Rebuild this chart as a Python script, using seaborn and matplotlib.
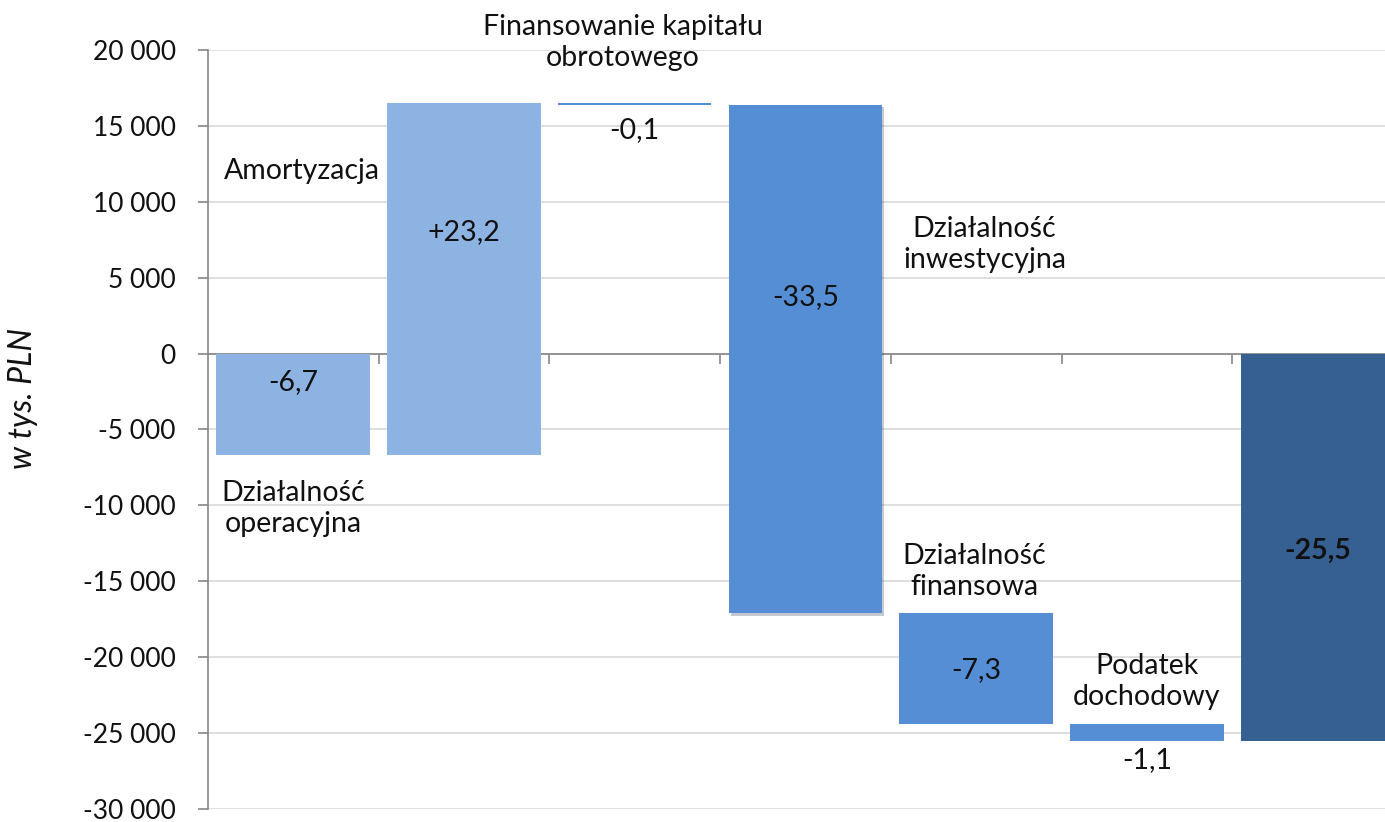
import matplotlib
matplotlib.use("Agg")
import matplotlib.pyplot as plt
import matplotlib.patheffects as pe
import seaborn as sns
import pandas as pd
from matplotlib.ticker import FuncFormatter

# ---- data ----
categories = ["Działalność operacyjna", "Amortyzacja", "Finansowanie kapitału obrotowego",
              "Działalność inwestycyjna", "Działalność finansowa", "Podatek dochodowy", "Razem"]
changes = [-6700, 23200, -100, -33500, -7300, -1100]   # w tys. PLN
total = -25500
value_labels = ["-6,7", "+23,2", "-0,1", "-33,5", "-7,3", "-1,1", "-25,5"]
name_labels = ["Działalność\noperacyjna", "Amortyzacja", "Finansowanie kapitału\nobrotowego",
               "Działalność\ninwestycyjna", "Działalność\nfinansowa", "Podatek\ndochodowy", ""]
colors = ["#8DB3E2", "#8DB3E2", "#558ED5", "#558ED5", "#558ED5", "#558ED5", "#366092"]
yticks = list(range(-30000, 20001, 5000))

# waterfall bottoms / heights
bottoms, heights = [], []
run = 0
for c in changes:
    bottoms.append(run)
    heights.append(c)
    run += c
bottoms.append(0)
heights.append(total)

df = pd.DataFrame({"cat": categories, "height": heights})

sns.set_style("white")
plt.rcParams["font.family"] = ["Lato", "DejaVu Sans"]

fig = plt.figure(figsize=(13.85, 8.22), dpi=100)
ax = fig.add_axes([0.150, 0.0158, 0.863, 0.9234])

sns.barplot(data=df, x="cat", y="height", bottom=bottoms, width=0.9,
            color=colors[0], linewidth=0, errorbar=None, ax=ax, zorder=3)
for p, col in zip(ax.patches, colors):
    p.set_facecolor(col)
    p.set_edgecolor("none")
ax.patches[3].set_path_effects([pe.SimplePatchShadow(offset=(1.5, -2), alpha=0.25), pe.Normal()])

ax.set_ylim(-30000, 20000)
ax.set_xlim(-0.5, 6.5)
ax.set_yticks(yticks)
ax.yaxis.set_major_formatter(FuncFormatter(lambda v, _: f"{int(v):,}".replace(",", " ")))
ax.grid(axis="y", color="#D9D9D9", linewidth=1.2, zorder=0)
ax.set_axisbelow(True)

ax.set_xticks([i + 0.5 for i in range(6)])
ax.set_xticklabels([])
ax.set_xlabel("")
ax.spines["bottom"].set_position(("data", 0))
ax.spines["bottom"].set_color("#868686")
ax.spines["bottom"].set_linewidth(1.2)
ax.spines["bottom"].set_zorder(2)
ax.spines["left"].set_color("#868686")
ax.spines["left"].set_linewidth(1.2)
ax.spines["top"].set_visible(False)
ax.spines["right"].set_visible(False)
ax.tick_params(axis="x", direction="out", length=7, width=1.2, color="#868686", bottom=True)
ax.tick_params(axis="y", direction="out", length=7, width=1.2, color="#868686", left=True,
               labelsize=19, labelcolor="#111111", pad=16)

ax.set_ylabel("w tys. PLN", fontsize=23, style="italic", color="#111111")
ax.yaxis.set_label_coords(-0.142, 0.541)

fs = 20.5
# value labels
val_pos = [(0, -1850), (1, 8000), (2, 14700), (3, 3750), (4, -20850), (5, -26800), (6, -13000)]
for (x, y), t in zip(val_pos, value_labels):
    ax.text(x, y, t, ha="center", va="center", fontsize=fs, color="#111111",
            fontweight="bold" if t == "-25,5" else "normal", zorder=5)

# name labels
name_pos = [(0, -10200), (0.05, 12000), (1.93, 20500), (4.05, 7200), (3.99, -14350), (5.0, -21600)]
for (x, y), t in zip(name_pos, name_labels[:6]):
    ax.text(x, y, t, ha="center", va="center", fontsize=fs, color="#111111",
            linespacing=1.25, zorder=5, clip_on=False)

fig.savefig("out.png", dpi=100)
